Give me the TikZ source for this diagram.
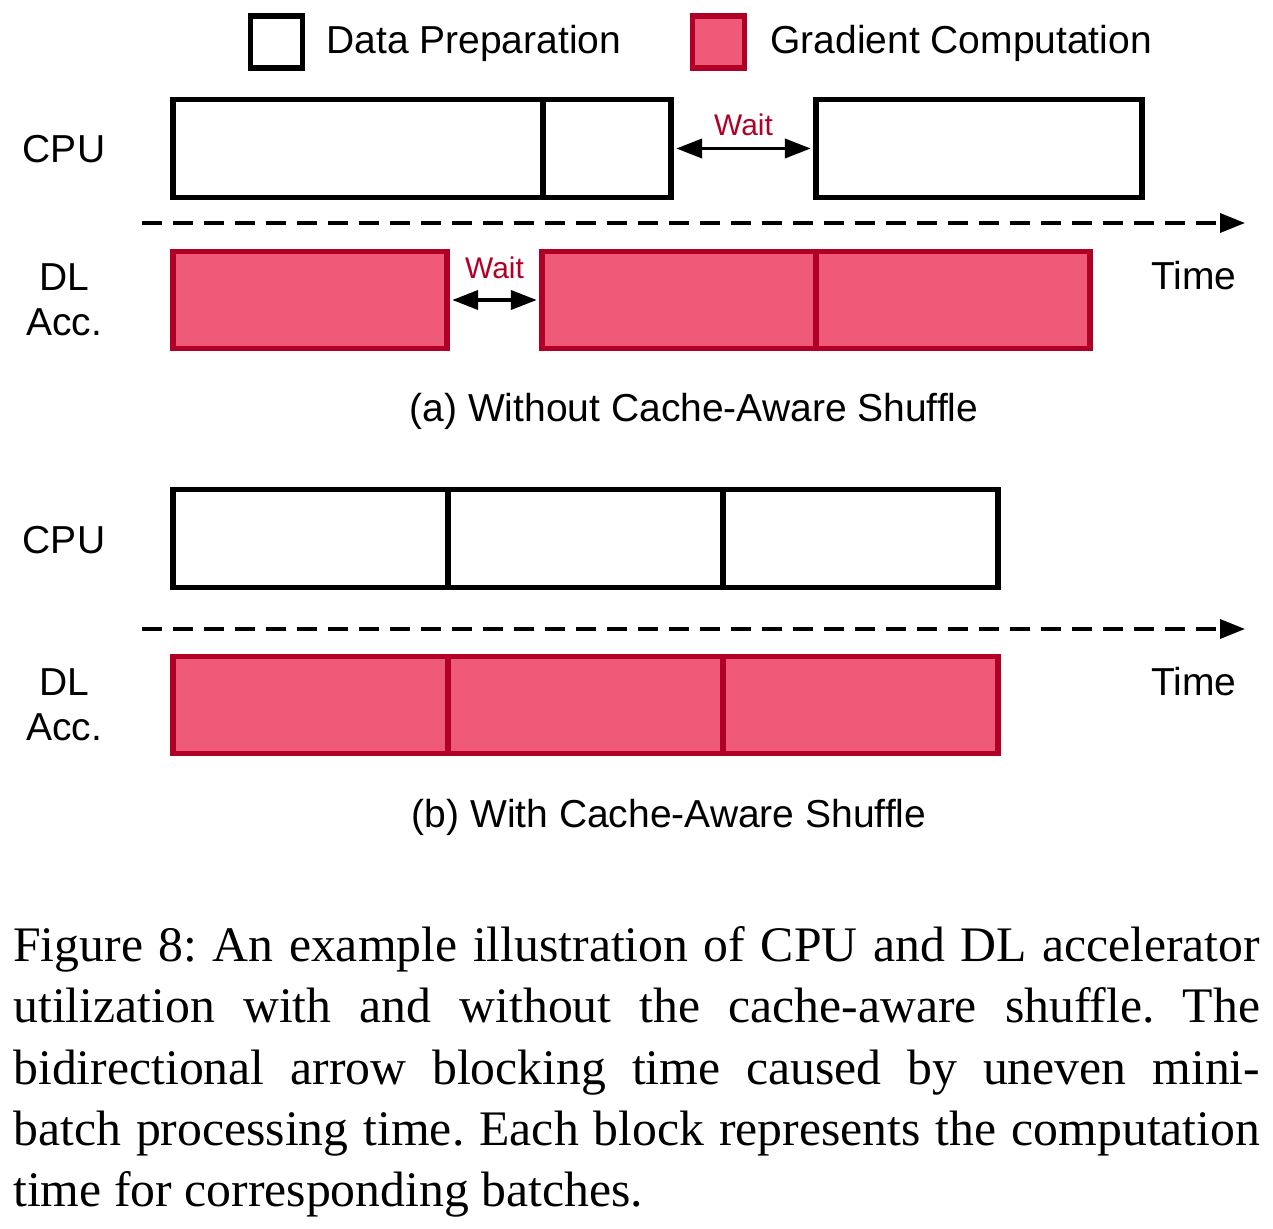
\documentclass[tikz,border=0pt]{standalone}
\usepackage{fontspec}
\setmainfont{Liberation Sans}
\newfontfamily\capfont{Liberation Serif}
\usepackage{tikz}
\usetikzlibrary{positioning,arrows.meta}

\definecolor{gradfill}{RGB}{239,90,120}
\definecolor{gradedge}{RGB}{176,0,38}
\definecolor{waitred}{RGB}{176,0,38}

\tikzset{
  batch/.style={draw, line width=3.1pt, inner sep=0pt, minimum height=1.95cm},
  prepbox/.style={batch, draw=black, fill=white},
  gradbox/.style={batch, draw=gradedge, fill=gradfill},
  keybox/.style={draw, line width=3.1pt, inner sep=0pt, minimum size=1.04cm},
  bigtext/.style={font=\fontsize{22.2}{25.5}\selectfont, inner sep=0pt},
  rowlabel/.style={bigtext, align=center},
  waitarrow/.style={line width=2.2pt, {Triangle[length=0.52cm,width=0.38cm]}-{Triangle[length=0.52cm,width=0.38cm]},
    shorten <=0.05cm, shorten >=0.05cm},
  waitlabel/.style={font=\fontsize{17}{20}\selectfont, text=waitred, inner sep=0pt},
  timeaxis/.style={line width=2pt, dash pattern=on 0.4cm off 0.22cm, -{Triangle[length=0.5cm,width=0.38cm]}}
}

\begin{document}
\begin{tikzpicture}[x=0.02cm, y=-0.02cm]
\useasboundingbox (0,0) rectangle (1273,1229);

%% legend
\node[keybox, draw=black, fill=white] (keyprep) at (276.5,42) {};
\node[bigtext, anchor=base west] (keypreptxt) at (326,54) {Data Preparation};
\node[keybox, draw=gradedge, fill=gradfill] (keygrad) at (718.5,42) {};
\node[bigtext, anchor=base west] (keygradtxt) at (770,54) {Gradient Computation};

%% (a) without cache-aware shuffle
\node[rowlabel, anchor=base] (acpu) at (64,163) {CPU};
\node[prepbox, minimum width=7.4cm] (ac1) at (358,148.5) {};
\node[prepbox, minimum width=2.56cm] (ac2) at (607,148.5) {};
\node[prepbox, minimum width=6.52cm] (ac3) at (979,148.5) {};
\draw[waitarrow] (ac2.east) -- node[waitlabel, above=0.21cm] (await1) {Wait} (ac3.west);

\coordinate (ata0) at (142,223);
\coordinate (ata1) at (1245,223);
\draw[timeaxis] (ata0) -- (ata1);

\node[rowlabel] (adl) at (64,300) {DL\\Acc.};
\node[gradbox, minimum width=5.48cm] (ag1) at (310,300) {};
\node[gradbox, minimum width=5.48cm] (ag2) at (679,300) {};
\node[gradbox, minimum width=5.48cm] (ag3) at (953,300) {};
\draw[waitarrow] (ag1.east) -- node[waitlabel, above=0.39cm] (await2) {Wait} (ag2.west);
\node[bigtext, anchor=base] (atime) at (1194,290) {Time};

\node[bigtext, anchor=base] (acap) at (694,421) {(a) Without Cache-Aware Shuffle};

%% (b) with cache-aware shuffle
\node[rowlabel, anchor=base] (bcpu) at (64,553) {CPU};
\foreach \i/\x in {1/310.5,2/585.5,3/860.5} {
  \node[prepbox, minimum width=5.5cm] (bc\i) at (\x,538.5) {};
  \node[gradbox, minimum width=5.5cm] (bg\i) at (\x,705) {};
}

\coordinate (bta0) at (142,629);
\coordinate (bta1) at (1245,629);
\draw[timeaxis] (bta0) -- (bta1);

\node[rowlabel] (bdl) at (64,705) {DL\\Acc.};
\node[bigtext, anchor=base] (btime) at (1194,695) {Time};

\node[bigtext, anchor=base] (bcap) at (669,827) {(b) With Cache-Aware Shuffle};

%% figure caption
\node[anchor=north west, inner sep=0pt, text width=24.94cm, align=justify,
  font=\capfont\fontsize{28.3}{34.9}\selectfont\frenchspacing] (figcap) at (13,926)
  {Figure 8: An example illustration of CPU and DL accelerator\linebreak
   utilization with and without the cache-aware shuffle. The\linebreak
   bidirectional arrow blocking time caused by uneven mini-\linebreak
   batch processing time. Each block represents the computation\linebreak
   time for corresponding batches.};
\end{tikzpicture}
\end{document}
